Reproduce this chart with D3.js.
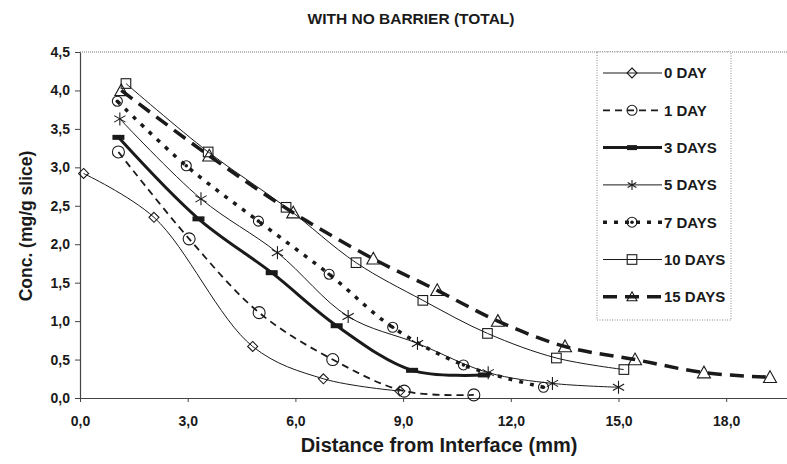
<!DOCTYPE html>
<html><head><meta charset="utf-8">
<script src="https://cdn.jsdelivr.net/npm/d3@7/dist/d3.min.js"></script>
<style>
html,body{margin:0;padding:0;background:#fff;}
svg{display:block;font-family:"Liberation Sans",Arial,sans-serif;}
</style></head>
<body><svg id="chart" width="787" height="464"></svg>
<script>
// ---- data ----
const seriesNames = ["0 DAY","1 DAY","3 DAYS","5 DAYS","7 DAYS","10 DAYS","15 DAYS"];
const day0X  = [0.1, 2.06, 4.81, 6.78, 8.91];
const day0Y  = [2.92, 2.35, 0.67, 0.25, 0.09];
const day1X  = [1.07, 3.04, 4.99, 7.04, 9.03, 10.97];
const day1Y  = [3.20, 2.07, 1.11, 0.50, 0.09, 0.04];
const day3X  = [1.07, 3.3, 5.34, 7.15, 9.25, 11.25];
const day3Y  = [3.39, 2.33, 1.63, 0.94, 0.36, 0.30];
const day5X  = [1.11, 3.37, 5.5, 7.47, 9.4, 11.37, 13.16, 15.0];
const day5Y  = [3.63, 2.59, 1.89, 1.06, 0.71, 0.33, 0.19, 0.14];
const day7X  = [1.04, 2.96, 4.97, 6.94, 8.71, 10.68, 12.91];
const day7Y  = [3.86, 3.02, 2.30, 1.61, 0.92, 0.43, 0.14];
const day10X = [1.28, 3.57, 5.74, 7.69, 9.55, 11.35, 13.27, 15.15];
const day10Y = [4.09, 3.20, 2.48, 1.76, 1.27, 0.84, 0.52, 0.37];
const day15X = [1.15, 3.6, 5.94, 8.17, 9.95, 11.64, 13.51, 15.46, 17.38, 19.22];
const day15Y = [4.00, 3.15, 2.41, 1.81, 1.40, 1.00, 0.67, 0.50, 0.33, 0.27];
const xTicks = [0, 3, 6, 9, 12, 15, 18];
const yTicks = [0, 0.5, 1, 1.5, 2, 2.5, 3, 3.5, 4, 4.5];
const titleText = "WITH NO BARRIER (TOTAL)";
const xTitle = "Distance from Interface (mm)";
const yTitle = "Conc. (mg/g slice)";

// ---- styles ----
const styles = [
  {marker:"diamond",  width:1,   dash:null,   size:5},
  {marker:"circle",   width:1.8, dash:"7,5",  size:6},
  {marker:"bar",      width:3,   dash:null,   size:6},
  {marker:"asterisk", width:1,   dash:null,   size:6.5},
  {marker:"dotcircle",width:3.5, dash:"4,7",  size:5},
  {marker:"square",   width:1,   dash:null,   size:4.8},
  {marker:"triangle", width:3.5, dash:"14,8", size:6.5}
];
const xs = [day0X,day1X,day3X,day5X,day7X,day10X,day15X];
const ys = [day0Y,day1Y,day3Y,day5Y,day7Y,day10Y,day15Y];
const series = seriesNames.map((n,i)=>({name:n, style:styles[i],
  pts: xs[i].map((x,j)=>({x:x, y:ys[i][j]}))}));

const svg = d3.select("#chart");
const ink = "#1a1a1a";
const x = d3.scaleLinear().domain([0,20]).range([80, 798]);
const y = d3.scaleLinear().domain([0,4.5]).range([398, 52]);
const fmt = d => d3.format(".1f")(d).replace(".", ",");

// frame top (dotted)
svg.append("line").attr("x1",80).attr("x2",787).attr("y1",52).attr("y2",52)
  .attr("stroke","#777").attr("stroke-dasharray","1,1");

// axes
const xa = svg.append("g").attr("transform","translate(0,398)")
  .call(d3.axisBottom(x).tickValues(xTicks).tickFormat(fmt).tickSize(4).tickPadding(14).tickSizeOuter(0));
const ya = svg.append("g").attr("transform","translate(80,0)")
  .call(d3.axisLeft(y).tickValues(yTicks).tickFormat(fmt).tickSize(5).tickPadding(5).tickSizeOuter(0));
[xa,ya].forEach(g=>{
  g.select(".domain").attr("stroke","#444").attr("stroke-width",1.2);
  g.selectAll(".tick line").attr("stroke","#444");
  g.selectAll("text").attr("fill",ink).attr("font-size",14).attr("font-weight","bold")
    .attr("font-family","'Liberation Sans Narrow','Liberation Sans',Arial,sans-serif")
    .style("font-stretch","condensed");
});

// titles
svg.append("text").attr("x",411).attr("y",24).attr("text-anchor","middle")
  .attr("font-size",15.5).attr("font-weight","bold").attr("fill",ink).text(titleText);
svg.append("text").attr("x",439).attr("y",452).attr("text-anchor","middle")
  .attr("font-size",20).attr("font-weight","bold").attr("fill",ink).text(xTitle);
svg.append("text").attr("transform","translate(32,226) rotate(-90)").attr("text-anchor","middle")
  .attr("font-size",17.5).attr("font-weight","bold").attr("fill",ink).text(yTitle);

// marker drawer
function drawMarker(g, type, s, cx, cy){
  const m = g.append("g").attr("transform",`translate(${cx},${cy})`);
  const st = sel => sel.attr("fill","none").attr("stroke",ink).attr("stroke-width",1.1);
  if(type==="diamond") st(m.append("path").attr("d",`M0,${-s}L${s},0L0,${s}L${-s},0Z`));
  else if(type==="circle") st(m.append("circle").attr("r",s));
  else if(type==="dotcircle"){ st(m.append("circle").attr("r",s)); m.append("circle").attr("r",1.8).attr("fill",ink); }
  else if(type==="square") st(m.append("rect").attr("x",-s).attr("y",-s).attr("width",2*s).attr("height",2*s));
  else if(type==="triangle") st(m.append("path").attr("d",`M0,${-s}L${s},${s*0.8}L${-s},${s*0.8}Z`));
  else if(type==="bar") m.append("rect").attr("x",-s).attr("y",-2.5).attr("width",2*s).attr("height",5).attr("fill",ink);
  else if(type==="asterisk"){
    [90,30,150].forEach(a=>{
      const r=a*Math.PI/180;
      st(m.append("line").attr("x1",-s*Math.cos(r)).attr("y1",-s*Math.sin(r)).attr("x2",s*Math.cos(r)).attr("y2",s*Math.sin(r)));
    });
  }
}

// lines
const line = d3.line().x(d=>x(d.x)).y(d=>y(d.y)).curve(d3.curveCatmullRom.alpha(0.5));
const plot = svg.append("g");
series.forEach(s=>{
  plot.append("path").datum(s.pts).attr("d",line).attr("fill","none")
    .attr("stroke",ink).attr("stroke-width",s.style.width)
    .attr("stroke-dasharray",s.style.dash);
});
series.forEach(s=>{
  s.pts.forEach(p=>drawMarker(plot, s.style.marker, s.style.size, x(p.x), y(p.y)));
});

// legend
const lg = svg.append("g");
lg.append("rect").attr("x",597).attr("y",52).attr("width",134).attr("height",268)
  .attr("fill","#fff").attr("stroke","#888").attr("stroke-dasharray","1,1.5");
series.forEach((s,i)=>{
  const yy = 73 + i*37.3;
  lg.append("line").attr("x1",603).attr("x2",662).attr("y1",yy).attr("y2",yy)
    .attr("stroke",ink).attr("stroke-width",s.style.width).attr("stroke-dasharray",s.style.dash);
  drawMarker(lg, s.style.marker, Math.min(s.style.size,5), 632, yy);
  lg.append("text").attr("x",664).attr("y",yy).attr("dy","0.36em")
    .attr("font-size",15).attr("font-weight","bold").attr("fill",ink).text(s.name);
});
</script></body></html>
